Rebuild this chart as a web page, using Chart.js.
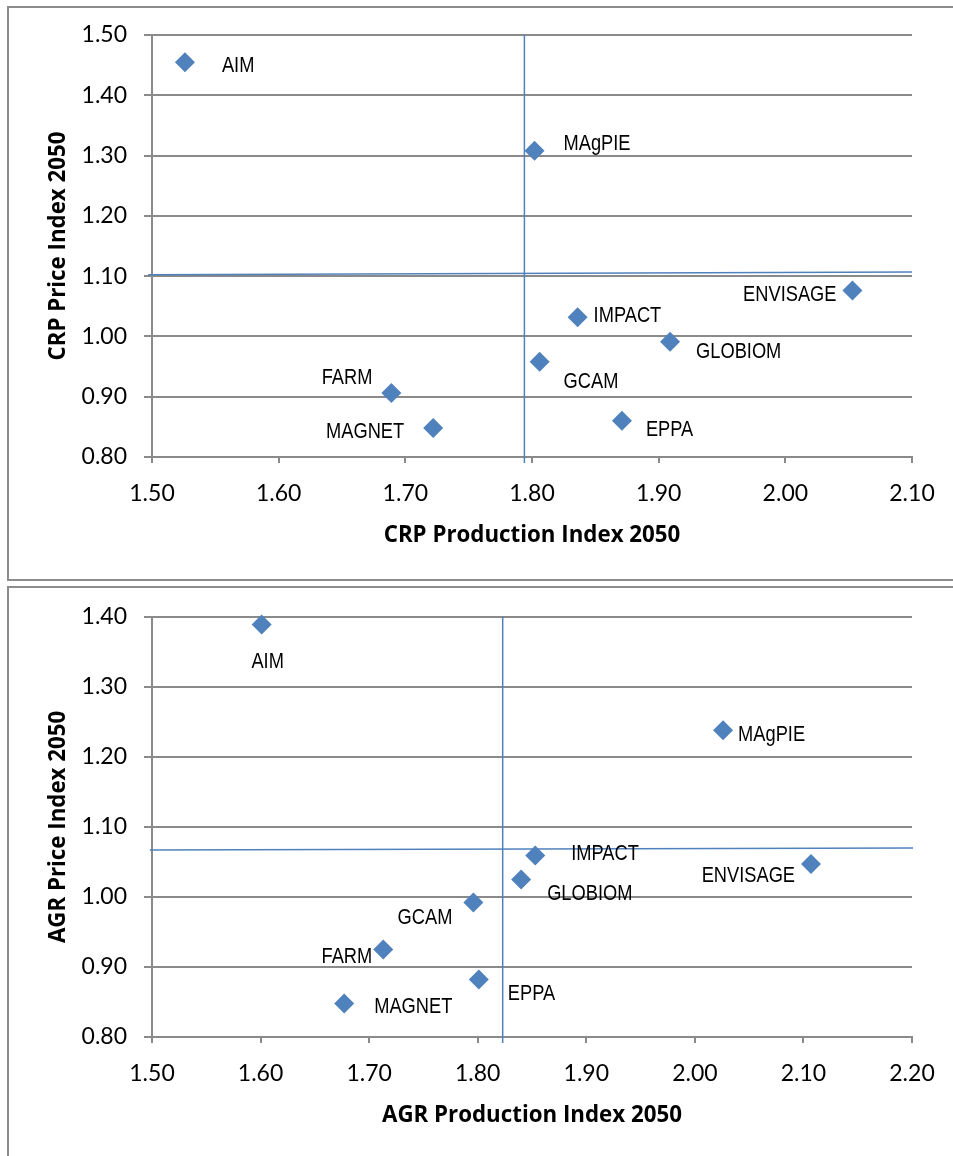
<!DOCTYPE html>
<html>
<head>
<meta charset="utf-8">
<script src="https://cdn.jsdelivr.net/npm/chart.js@4.4.1/dist/chart.umd.min.js"></script>
<style>
  html, body { margin: 0; padding: 0; overflow: hidden; background: #fff; }
  body { width: 953px; height: 1156px; position: relative; }
  .frame { position: absolute; box-sizing: border-box; border: 2px solid #8c8c8c; }
  canvas { position: absolute; left: 0; }
</style>
</head>
<body>
<div class="frame" style="left:7px;top:6px;width:960px;height:575px"></div>
<div class="frame" style="left:7px;top:586px;width:960px;height:600px"></div>
<canvas id="crpChart" width="953" height="581" style="top:0"></canvas>
<canvas id="agrChart" width="953" height="570" style="top:586px"></canvas>
<script>
const models = ['AIM', 'MAgPIE', 'ENVISAGE', 'IMPACT', 'GLOBIOM', 'GCAM', 'EPPA', 'FARM', 'MAGNET'];

// crops
const crpProduction = [1.526, 1.802, 2.053, 1.836, 1.909, 1.806, 1.871, 1.689, 1.722];
const crpPrice      = [1.455, 1.308, 1.076, 1.032, 0.991, 0.958, 0.860, 0.906, 0.848];
const crpVLine = [[1.794, 0.79], [1.794, 1.50]];
const crpHLine = [[1.497, 1.1025], [2.10, 1.107]];

// agriculture
const agrProduction = [1.601, 2.026, 2.107, 1.853, 1.840, 1.796, 1.801, 1.713, 1.677];
const agrPrice      = [1.389, 1.238, 1.047, 1.059, 1.025, 0.992, 0.882, 0.925, 0.848];
const agrVLine = [[1.823, 0.7915], [1.823, 1.40]];
const agrHLine = [[1.498, 1.0669], [2.201, 1.0697]];

// label placement: [align, dx, dy] from marker centre
const crpLabelPos = {
    AIM: ['left', 37, 2], MAgPIE: ['left', 29, -9], ENVISAGE: ['right', -16, 2],
    IMPACT: ['left', 16, -3], GLOBIOM: ['left', 26, 8], GCAM: ['left', 24, 18],
    EPPA: ['left', 24, 7], FARM: ['right', -19, -17], MAGNET: ['right', -29, 2]
};
const agrLabelPos = {
    AIM: ['center', 6, 35], MAgPIE: ['left', 15, 3], ENVISAGE: ['right', -16, 10],
    IMPACT: ['left', 36, -4], GLOBIOM: ['left', 26, 13], GCAM: ['right', -21, 13],
    EPPA: ['left', 29, 12], FARM: ['right', -11, 6], MAGNET: ['left', 30, 2]
};

Chart.defaults.font.family = 'Lato';
Chart.defaults.color = '#000';

const BLUE = '#4f81bd';
const GRID = '#8a8a8a';
const TITLE_FONT = {family: '"Open Sans"', size: 22.3, weight: 'bold'};

const toPts = (xs, ys) => xs.map((x, i) => ({x: x, y: ys[i]}));
const toLine = (arr) => arr.map(p => ({x: p[0], y: p[1]}));

function labelPlugin(placement) {
    return {
        id: 'pointLabels',
        afterDatasetsDraw(chart) {
            const ctx = chart.ctx;
            const meta = chart.getDatasetMeta(0);
            ctx.save();
            ctx.font = '22px "Liberation Sans", Arial, sans-serif';
            ctx.fillStyle = '#000';
            ctx.textBaseline = 'alphabetic';
            meta.data.forEach((pt, i) => {
                const p = placement[models[i]];
                ctx.save();
                ctx.translate(pt.x + p[1], pt.y + p[2] + 8);
                ctx.scale(0.83, 1);
                ctx.textAlign = p[0];
                ctx.fillText(models[i], 0, 0);
                ctx.restore();
            });
            ctx.restore();
        }
    };
}

function makeChart(id, cfg) {
    const lineDs = (data) => ({
        type: 'line',
        data: data,
        showLine: true,
        borderColor: BLUE,
        borderWidth: 1.5,
        pointRadius: 0,
        clip: false
    });

    return new Chart(document.getElementById(id), {
        type: 'scatter',
        data: {
            datasets: [
                {
                    data: cfg.points,
                    pointStyle: 'rectRot',
                    pointRadius: 10,
                    pointHoverRadius: 10,
                    backgroundColor: BLUE,
                    borderWidth: 0,
                    clip: false
                },
                lineDs(cfg.vLine),
                lineDs(cfg.hLine)
            ]
        },
        options: {
            responsive: false,
            animation: false,
            layout: {padding: {top: cfg.padTop, right: 41, left: 0, bottom: 0}},
            plugins: {legend: {display: false}, tooltip: {enabled: false}},
            scales: {
                x: {
                    type: 'linear',
                    min: cfg.xMin, max: cfg.xMax,
                    afterFit: (s) => { s.height = cfg.xAxisHeight; },
                    grid: {drawOnChartArea: false, tickLength: 6, tickColor: GRID, lineWidth: 2},
                    border: {color: GRID, width: 2},
                    ticks: {stepSize: 0.1, padding: 17, maxRotation: 0, font: {size: 23},
                        callback: (v) => v.toFixed(2)},
                    title: {display: true, text: cfg.xTitle, font: TITLE_FONT,
                        padding: {top: 0, bottom: cfg.xTitlePad}}
                },
                y: {
                    type: 'linear',
                    min: cfg.yMin, max: cfg.yMax,
                    afterFit: (s) => { s.width = 152; },
                    grid: {color: GRID, tickLength: 8, lineWidth: 2},
                    border: {color: GRID, width: 2},
                    ticks: {stepSize: 0.1, padding: 17, font: {size: 23},
                        callback: (v) => v.toFixed(2)},
                    title: {display: true, text: cfg.yTitle, font: TITLE_FONT,
                        padding: {top: 45, bottom: 0}}
                }
            }
        },
        plugins: [labelPlugin(cfg.labels)]
    });
}

makeChart('crpChart', {
    points: toPts(crpProduction, crpPrice),
    vLine: toLine(crpVLine), hLine: toLine(crpHLine),
    xMin: 1.5, xMax: 2.1, yMin: 0.8, yMax: 1.5,
    padTop: 35, xAxisHeight: 124, xTitlePad: 32,
    xTitle: 'CRP Production Index 2050', yTitle: 'CRP Price Index 2050',
    labels: crpLabelPos
});

makeChart('agrChart', {
    points: toPts(agrProduction, agrPrice),
    vLine: toLine(agrVLine), hLine: toLine(agrHLine),
    xMin: 1.5, xMax: 2.2, yMin: 0.8, yMax: 1.4,
    padTop: 29, xAxisHeight: 119, xTitlePad: 27,
    xTitle: 'AGR Production Index 2050', yTitle: 'AGR Price Index 2050',
    labels: agrLabelPos
});
</script>
</body>
</html>
